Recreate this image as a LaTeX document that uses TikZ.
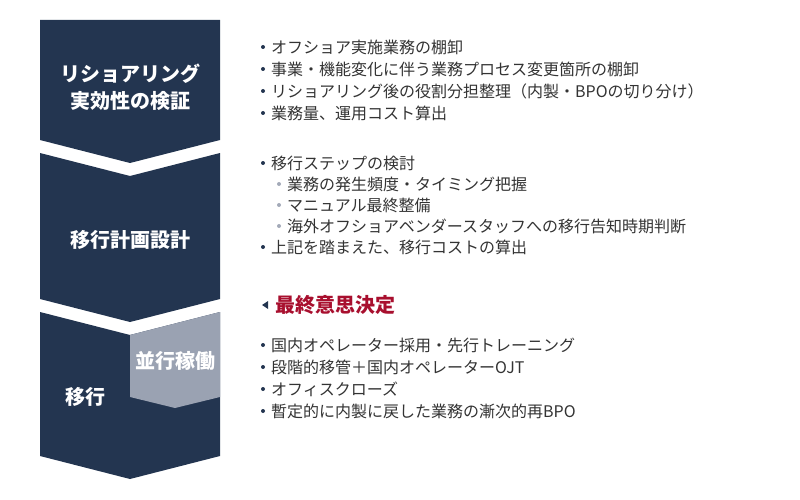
\documentclass[tikz,border=0pt]{standalone}
\usepackage{fontspec}
\setmainfont{Noto Sans CJK JP}
\definecolor{navy}{HTML}{233550}
\definecolor{slate}{HTML}{9AA2B2}
\definecolor{wine}{HTML}{A80F2E}
\definecolor{ink}{HTML}{333333}
\definecolor{dotgray}{HTML}{A3AAB8}
\tikzset{
    stage/.style={text=white,font=\fontsize{20}{27}\selectfont\bfseries,align=center,inner sep=0pt},
    item/.style={anchor=west,text=ink,font=\fontsize{16}{16}\selectfont,inner sep=0pt},
}
\begin{document}
\begin{tikzpicture}[x=1pt,y=-1pt]
        \useasboundingbox (0,0) rectangle (800,500);
        \draw[fill=navy,draw=none] (40,20) -- (220,20) -- (220,140) -- (130,163) -- (40,140) -- cycle;
        \draw[fill=navy,draw=none] (40,153) -- (130,176) -- (220,153) -- (220,299) -- (130,322) -- (40,299) -- cycle;
        \draw[fill=navy,draw=none] (40,312) -- (130,335) -- (220,312) -- (220,456) -- (130,479) -- (40,456) -- cycle;
        \draw[fill=slate,draw=none] (130,335) -- (220,312) -- (220,397) -- (175,408) -- (130,397) -- cycle;

        \node[stage] (verify) at (130,87) {リショアリング\\実効性の検証};
        \node[stage] (plan) at (130,240) {移行計画設計};
        \node[stage] (parallel) at (175,361) {並行稼働};
        \node[stage] (migrate) at (85,397) {移行};

        \foreach \t [count=\i] in {オフショア実施業務の棚卸,事業・機能変化に伴う業務プロセス変更箇所の棚卸,リショアリング後の役割分担整理（内製・BPOの切り分け）,業務量、運用コスト算出}{
            \fill[navy] (263,25+22*\i) circle (2);
            \node[item] (check\i) at (271,25+22*\i) {\t};
        }

        \fill[navy] (263,163) circle (2);
        \node[item] (step) at (271,163) {移行ステップの検討};
        \foreach \t [count=\i] in {業務の発生頻度・タイミング把握,マニュアル最終整備,海外オフショアベンダースタッフへの移行告知時期判断}{
            \fill[dotgray] (279,163+21*\i) circle (2);
            \node[item] (sub\i) at (287,163+21*\i) {\t};
        }
        \fill[navy] (263,247) circle (2);
        \node[item] (cost) at (271,247) {上記を踏まえた、移行コストの算出};

        \fill[navy] (268,301) -- (262,305) -- (268,309) -- cycle;
        \node[item,text=wine,font=\fontsize{20}{20}\selectfont\bfseries] (decide) at (275,305) {最終意思決定};

        \foreach \t [count=\i] in {国内オペレーター採用・先行トレーニング,段階的移管＋国内オペレーターOJT,オフィスクローズ,暫定的に内製に戻した業務の漸次的再BPO}{
            \fill[navy] (263,323+22*\i) circle (2);
            \node[item] (move\i) at (271,323+22*\i) {\t};
        }
    \end{tikzpicture}
\end{document}
